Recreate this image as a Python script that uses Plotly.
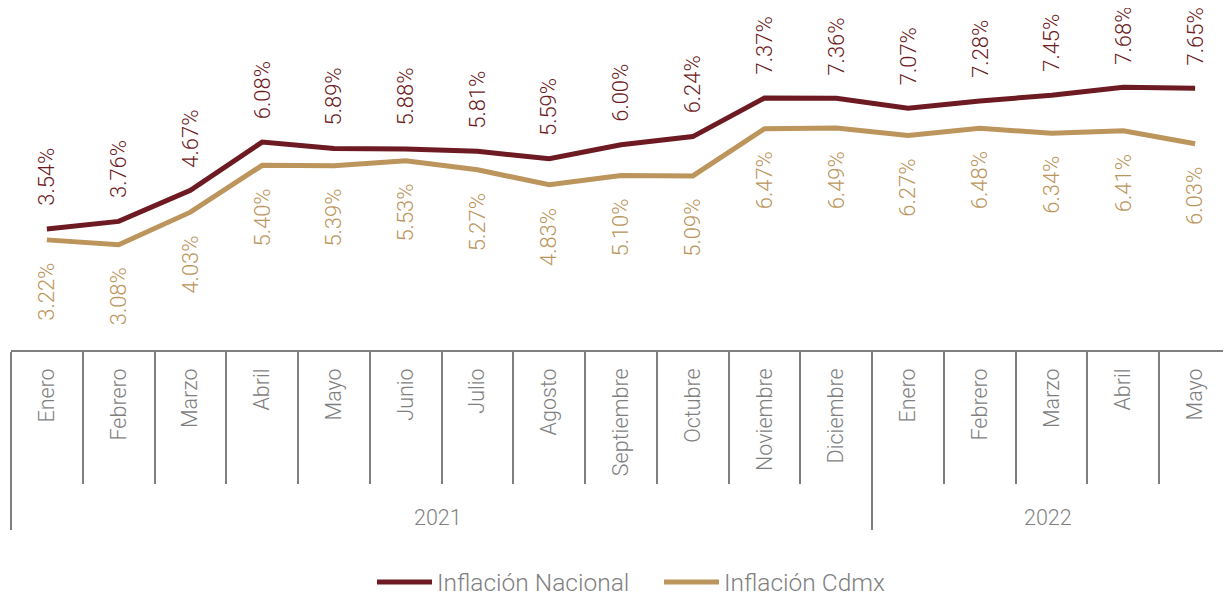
import plotly.graph_objects as go

years = ["2021"] * 12 + ["2022"] * 5
months = ["Enero", "Febrero", "Marzo", "Abril", "Mayo", "Junio", "Julio", "Agosto",
          "Septiembre", "Octubre", "Noviembre", "Diciembre",
          "Enero", "Febrero", "Marzo", "Abril", "Mayo"]
nacional = [3.54, 3.76, 4.67, 6.08, 5.89, 5.88, 5.81, 5.59, 6.00, 6.24, 7.37, 7.36,
            7.07, 7.28, 7.45, 7.68, 7.65]
cdmx = [3.22, 3.08, 4.03, 5.40, 5.39, 5.53, 5.27, 4.83, 5.10, 5.09, 6.47, 6.49,
        6.27, 6.48, 6.34, 6.41, 6.03]

C_NAC = "#6D1A22"
C_CDMX = "#BC955C"
GRAY = "#7F7F7F"
FONT = "Roboto"

# the longest month label gets leading non-breaking spaces so that the year row sits lower
longest = max(len(m) for m in months)
month_labels = [("\u00a0" * 3 + m) if len(m) == longest else m for m in months]
xcats = [years, month_labels]

fig = go.Figure()
fig.add_trace(go.Scatter(x=xcats, y=nacional, mode="lines", name="Inflación Nacional",
                         line=dict(color=C_NAC, width=5)))
fig.add_trace(go.Scatter(x=xcats, y=cdmx, mode="lines", name="Inflación Cdmx",
                         line=dict(color=C_CDMX, width=5)))

ann = []
for i, (a, b) in enumerate(zip(nacional, cdmx)):
    ann.append(dict(x=i, y=a, xref="x", yref="y", text=f"{a:.2f}%", showarrow=False,
                    textangle=-90, yanchor="bottom", yshift=21,
                    font=dict(family=FONT, size=22, color=C_NAC, weight=300)))
    ann.append(dict(x=i, y=b, xref="x", yref="y", text=f"{b:.2f}%", showarrow=False,
                    textangle=-90, yanchor="top", yshift=-21,
                    font=dict(family=FONT, size=22, color=C_CDMX, weight=300)))

PLOT_H = 342
fig.update_layout(
    width=1223, height=590,
    margin=dict(l=3, r=0, t=0, b=590 - PLOT_H, autoexpand=False),
    paper_bgcolor="white", plot_bgcolor="white",
    font=dict(family=FONT, color=GRAY, weight=300),
    annotations=ann,
    showlegend=True,
    legend=dict(orientation="h", x=(372 - 8) / 1223, xanchor="left", xref="container",
                y=(PLOT_H - 574) / PLOT_H, yanchor="middle", yref="paper",
                itemwidth=55, entrywidth=217,
                font=dict(family=FONT, size=24.5, color=GRAY, weight=300)),
    xaxis=dict(
        type="multicategory", showgrid=False, zeroline=False, automargin=False,
        range=[-0.5, 16.5],
        showline=True, linecolor=GRAY, linewidth=1.5,
        ticks="outside", tickson="boundaries", ticklen=132, tickcolor=GRAY, tickwidth=1.5,
        ticklabelstandoff=8,
        tickangle=-90, tickfont=dict(family=FONT, size=21.5, color=GRAY, weight=300),
        showdividers=True, dividercolor=GRAY, dividerwidth=1.5,
    ),
    yaxis=dict(range=[0, 10], visible=False),
)

fig.write_html("out.html")
